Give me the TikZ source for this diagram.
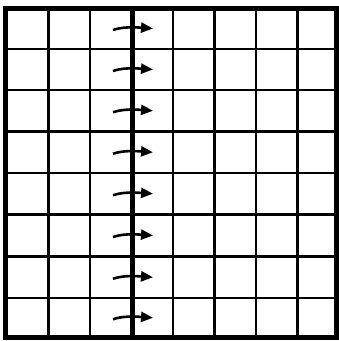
\documentclass[tikz,border=0pt]{standalone}
\usetikzlibrary{arrows.meta}
\begin{document}
\begin{tikzpicture}[x=1pt,y=-1pt,
  gridline/.style={line width=2.2pt,black},
  thickline/.style={line width=4.5pt,black},
  border/.style={line width=5pt,black},
  flowarrow/.style={line width=2.6pt,black,-{Triangle[length=12pt,width=10pt]}}]
\useasboundingbox (0,0) rectangle (339,341);
\fill[white] (0,0) rectangle (339,341);
% interior grid lines
\foreach \xx in {48.5,90,173,214.5,256,297.5}{
  \draw[gridline] (\xx,8) -- (\xx,337.5);
}
\foreach \yy in {49,90,131.5,173,214.5,256.5,298}{
  \draw[gridline] (5,\yy) -- (336.5,\yy);
}
% thick centre line
\draw[thickline] (132.5,8) -- (132.5,337.5);
% arrows
\foreach \yc in {28.5,69.5,110.75,152.25,193.75,235.5,277.25,317.75}{
  \coordinate (s) at (113,\yc+1.5);
  \coordinate (e) at (153,\yc);
  \draw[flowarrow] (s) .. controls (122,\yc-1.5) and (132,\yc-1.5) .. (e);
}
% border
\draw[border] (5,8) rectangle (336.5,337.5);
\end{tikzpicture}
\end{document}
